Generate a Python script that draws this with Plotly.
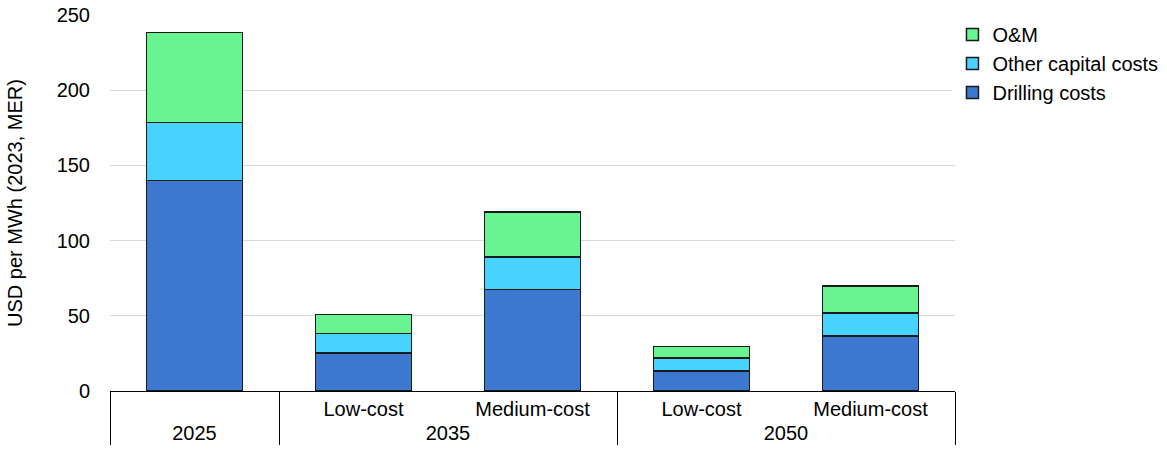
import plotly.graph_objects as go

# x categories (outer year, inner cost case)
years = ["2025", "2035", "2035", "2050", "2050"]
cases = [" ", "Low-cost", "Medium-cost", "Low-cost", "Medium-cost"]

# USD per MWh (2023, MER)
drilling = [140.0, 25.3, 67.5, 13.3, 36.6]
other_capital = [38.5, 12.9, 21.6, 8.6, 15.3]
om = [60.0, 12.7, 29.9, 7.7, 17.9]

fig = go.Figure()

for name, vals, color in [
    ("Drilling costs", drilling, "#3C78D0"),
    ("Other capital costs", other_capital, "#47D2FF"),
    ("O&M", om, "#68F490"),
]:
    fig.add_trace(go.Bar(
        x=[years, cases],
        y=vals,
        name=name,
        marker=dict(color=color, line=dict(color="#1a1a1a", width=1.5)),
    ))

fig.update_layout(
    barmode="stack",
    bargap=0.43,
    width=1167,
    height=456,
    margin=dict(l=110, r=212, t=15, b=65, autoexpand=False),
    plot_bgcolor="white",
    paper_bgcolor="white",
    font=dict(family="Liberation Sans, Arial, sans-serif", size=20, color="#000000"),
    legend=dict(
        traceorder="reversed",
        x=0.997, y=1.0, xanchor="left", yanchor="top",
        font=dict(size=20),
        itemwidth=30,
        tracegroupgap=0,
    ),
    xaxis=dict(
        type="multicategory",
        automargin=False,
        showline=True, linecolor="#000000", linewidth=1,
        showdividers=True, dividercolor="#000000", dividerwidth=1,
        ticks="", tickfont=dict(size=20),
        range=[-0.5, 4.5],
    ),
    yaxis=dict(
        automargin=False,
        range=[0, 250], dtick=50,
        showgrid=True, gridcolor="#D9D9D9", gridwidth=1,
        zeroline=False,
        ticklabelstandoff=19,
        tickfont=dict(size=20),
        title=dict(text="USD per MWh (2023, MER)", font=dict(size=20), standoff=28),
    ),
)

# page body has a default 8px margin; drop it so the figure sits at the corner
fig.write_html("out.html", config={"displayModeBar": False},
               post_script="document.body.style.margin='0';")
